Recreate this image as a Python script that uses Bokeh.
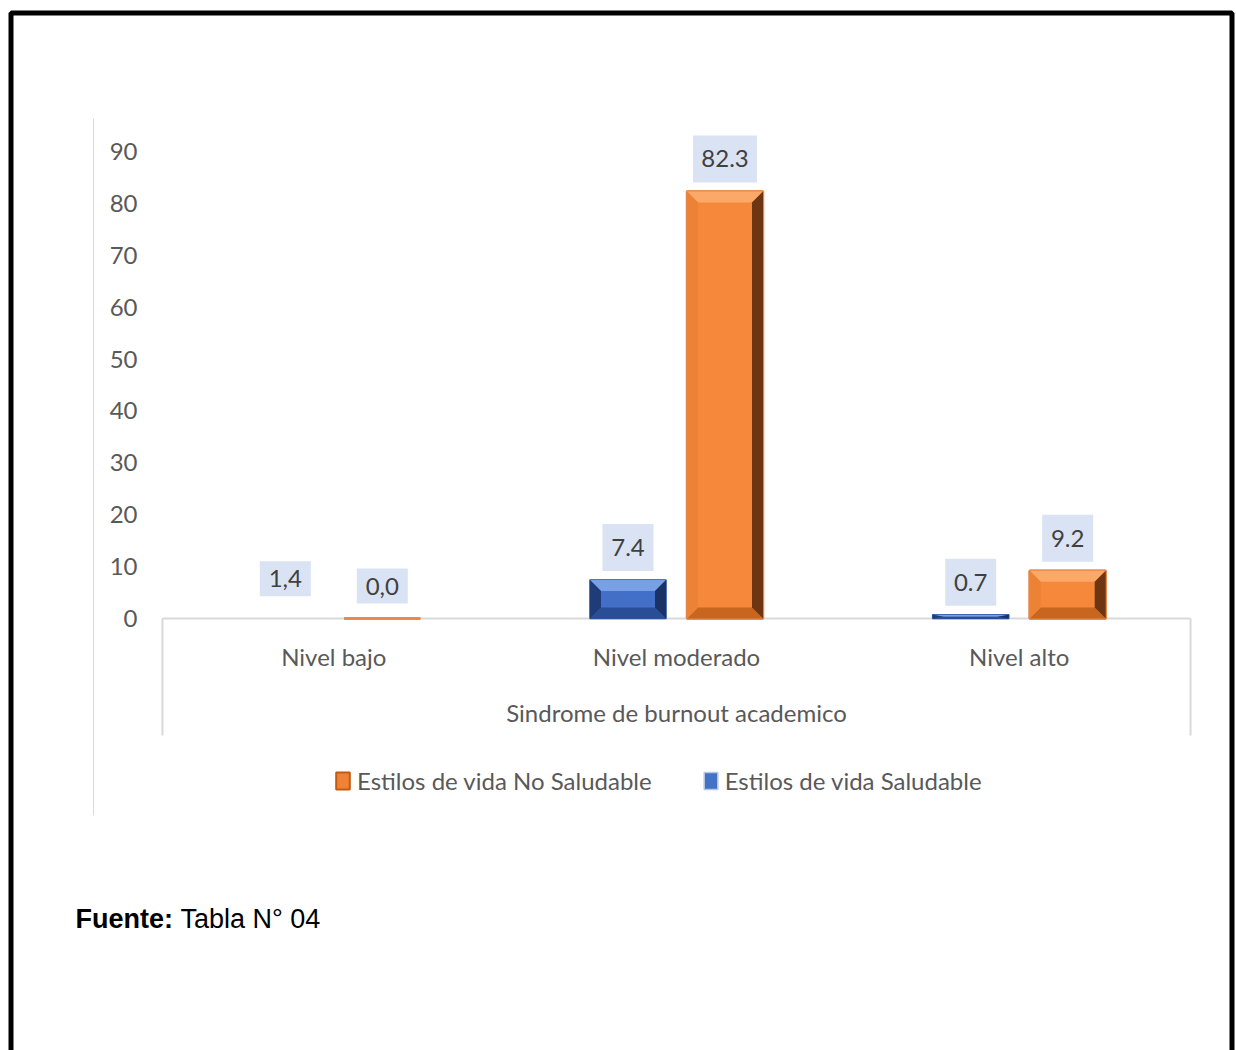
import numpy as np
from bokeh.plotting import figure
from bokeh.models import Range1d, LinearAxis, FixedTicker, Legend, LegendItem, ColumnDataSource
from bokeh.core.properties import value
from bokeh.embed import file_html
from bokeh.resources import INLINE

# ---------------- data ----------------
categories = ["Nivel bajo", "Nivel moderado", "Nivel alto"]
saludable = [1.4, 7.4, 0.7]          # Estilos de vida Saludable
no_saludable = [0.0, 82.3, 9.2]      # Estilos de vida No Saludable
saludable_labels = ["1,4", "7.4", "0.7"]
no_saludable_labels = ["0,0", "82.3", "9.2"]
series_names = ["Estilos de vida Saludable", "Estilos de vida No Saludable"]
y_ticks = [0, 10, 20, 30, 40, 50, 60, 70, 80, 90]
x_title = "Sindrome de burnout academico"
source_bold = "Fuente:"
source_text = "Tabla N° 04"

# ---------------- styles ----------------
saludable_visible = [0.0, 1.0, 1.0]   # first blue bar is not drawn in the original
label_box_h = [35, 47, 47]
FONT = "Lato"
TXT = "#595959"

W, H = 1236, 1050
X0_PX, X_STEP_PX = 333.3, 342.7
Y0_PX, Y_UNIT_PX = 618.0, 5.189


def px2x(px):
    return (px - X0_PX) / X_STEP_PX


def px2y(py):
    return (Y0_PX - py) / Y_UNIT_PX


p = figure(width=W, height=H,
           x_range=Range1d(px2x(0), px2x(W)), y_range=Range1d(px2y(H), px2y(0)),
           x_axis_type=None, y_axis_type=None, toolbar_location=None,
           output_backend="svg", min_border=0, outline_line_color=None,
           background_fill_color="white", border_fill_color="white")
if p.title is not None:
    p.title.visible = False

idx = np.arange(len(categories), dtype=float)
n = len(categories)
OFFSET = 48.5 / X_STEP_PX
BAR_W = 76.0 / X_STEP_PX
BEV_PX = 11.0


def bevel_bars(xc, vals, alphas, base, top_c, bot_c, left_c, right_c, edge_c, edge_w):
    vals = np.asarray(vals, float)
    alphas = list(alphas)
    l = xc - BAR_W / 2
    r = xc + BAR_W / 2
    h_px = vals * Y_UNIT_PX
    by = np.minimum(BEV_PX, h_px / 2) / Y_UNIT_PX
    bx = BEV_PX / X_STEP_PX
    p.vbar(x=list(xc), top=list(vals), bottom=0, width=BAR_W,
           fill_color=base, line_color=edge_c, line_width=edge_w,
           fill_alpha=alphas, line_alpha=alphas)
    shapes = [
        ([[a, b, b - bx, a + bx] for a, b in zip(l, r)],
         [[t, t, t - d, t - d] for t, d in zip(vals, by)], top_c),
        ([[a, b, b - bx, a + bx] for a, b in zip(l, r)],
         [[0, 0, d, d] for d in by], bot_c),
        ([[a, a, a + bx, a + bx] for a in l],
         [[0, t, t - d, d] for t, d in zip(vals, by)], left_c),
        ([[b, b, b - bx, b - bx] for b in r],
         [[0, t, t - d, d] for t, d in zip(vals, by)], right_c),
    ]
    for xs, ys, c in shapes:
        src = ColumnDataSource(dict(xs=xs, ys=ys, a=alphas))
        p.patches("xs", "ys", source=src, fill_color=c, fill_alpha="a",
                  line_color=None)


# page border
p.quad(left=[px2x(10.5)], right=[px2x(1231.5)], top=[px2y(12.5)], bottom=[px2y(1080)],
       fill_color=None, line_color="black", line_width=5)

# chart area left edge
p.segment(x0=[px2x(93)], y0=[px2y(118)], x1=[px2x(93)], y1=[px2y(815)],
          line_color="#d9d9d9", line_width=1)

# category box side lines
p.segment(x0=[-0.5, n - 0.5], y0=[0, 0], x1=[-0.5, n - 0.5], y1=[px2y(735)] * 2,
          line_color="#d9d9d9", line_width=2)

# flat series bars (used for the legend swatches; covered by the bevelled bars)
r_si = p.vbar(x=list(idx - OFFSET), top=saludable, width=BAR_W,
              fill_color="#4472C4", line_color="#B4C7E7", line_width=1.5,
              fill_alpha=saludable_visible, line_alpha=saludable_visible)
r_no = p.vbar(x=list(idx + OFFSET), top=no_saludable, width=BAR_W,
              fill_color="#F08236", line_color="#C55A11", line_width=2)

# bevelled bars
bevel_bars(idx - OFFSET, saludable, saludable_visible,
           "#4270C8", "#78A0E4", "#2A4E96", "#1F3C78", "#1A3266", "#2F55A0", 1.5)
bevel_bars(idx + OFFSET, no_saludable, [1.0] * n,
           "#F5883A", "#FBA868", "#C8661F", "#EC8236", "#6E3512", "#E8864A", 2.5)

# data labels
lab_x = list(idx - OFFSET) + list(idx + OFFSET)
lab_top = np.array(saludable + no_saludable, float)
lab_txt = saludable_labels + no_saludable_labels
lab_y = list(lab_top + 32.5 / Y_UNIT_PX)
box_w = [13 * len(t) + 12 for t in lab_txt]
box_h = label_box_h + label_box_h
p.rect(x=lab_x, y=lab_y, width=box_w, height=box_h, width_units="screen",
       height_units="screen", fill_color="#DAE3F3", line_color=None)
p.text(x=lab_x, y=lab_y, text=lab_txt, text_align="center", text_baseline="middle",
       text_font=value(FONT), text_font_size="24px", text_color="#404040")

# y axis
yax = LinearAxis(fixed_location=px2x(142), ticker=FixedTicker(ticks=y_ticks),
                 axis_line_color=None, major_tick_line_color=None,
                 minor_tick_line_color=None, major_tick_in=0, major_tick_out=0,
                 major_label_standoff=5, major_label_text_font=FONT,
                 major_label_text_font_size="24px", major_label_text_color=TXT)
p.add_layout(yax, "left")

# x axis (drawn beneath the bars)
xax = LinearAxis(fixed_location=0, bounds=(-0.5, n - 0.5), level="underlay",
                 ticker=FixedTicker(ticks=[int(i) for i in range(n)]),
                 major_label_overrides={i: c for i, c in enumerate(categories)},
                 axis_line_color="#d9d9d9", axis_line_width=2,
                 major_tick_line_color=None, minor_tick_line_color=None,
                 major_tick_in=0, major_tick_out=0, major_label_standoff=23,
                 major_label_text_font=FONT, major_label_text_font_size="24px",
                 major_label_text_color=TXT,
                 axis_label=x_title, axis_label_standoff=24,
                 axis_label_text_font=FONT, axis_label_text_font_size="24px",
                 axis_label_text_font_style="normal", axis_label_text_color=TXT)
p.add_layout(xax, "below")

# legend
legend = Legend(items=[LegendItem(label=series_names[1], renderers=[r_no], index=1),
                       LegendItem(label=series_names[0], renderers=[r_si], index=1)],
                orientation="horizontal", location=(334, H - 795),
                glyph_width=17, glyph_height=21, label_standoff=6, spacing=50,
                padding=0, margin=0, border_line_color=None, background_fill_alpha=0,
                label_text_font=FONT, label_text_font_size="24px",
                label_text_color=TXT)
p.add_layout(legend)

# source note
p.text(x=[px2x(75)], y=[px2y(918)], text=[source_bold], text_font=value("Liberation Sans"),
       text_font_style="bold", text_font_size="27px", text_baseline="middle",
       text_color="black")
p.text(x=[px2x(180)], y=[px2y(918)], text=[source_text], text_font=value("Liberation Sans"),
       text_font_size="27px", text_baseline="middle", text_color="black")

open("out.html", "w").write(file_html(p, INLINE))
